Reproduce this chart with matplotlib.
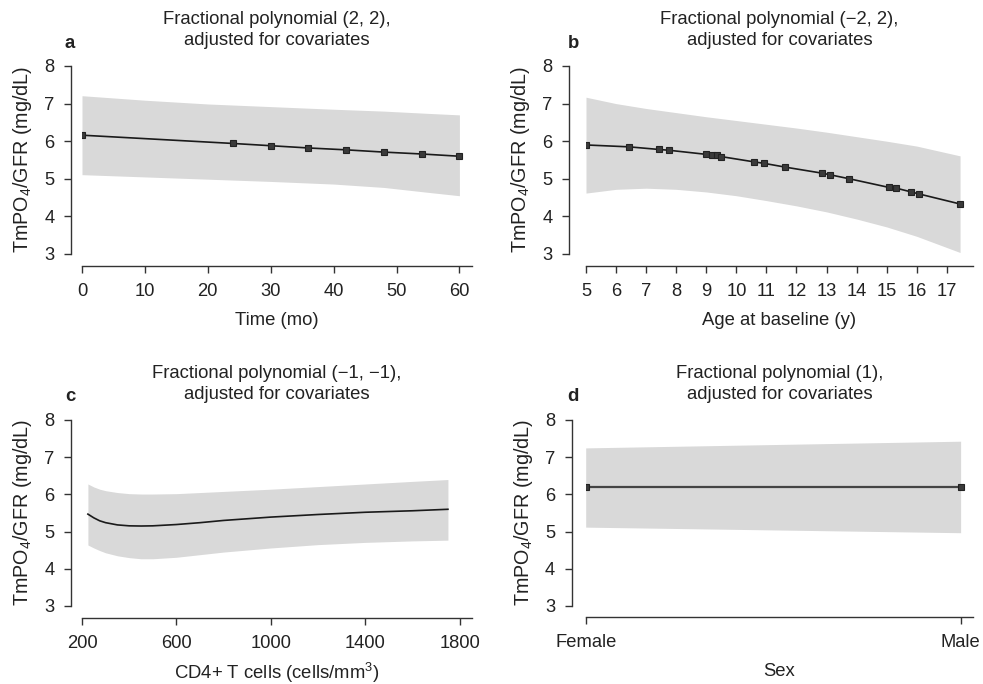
import matplotlib
matplotlib.use("Agg")
import matplotlib.pyplot as plt
import numpy as np

plt.rcParams['font.family'] = ['Liberation Sans', 'DejaVu Sans']
plt.rcParams['mathtext.fontset'] = 'custom'
plt.rcParams['mathtext.rm'] = 'Liberation Sans'
plt.rcParams['mathtext.it'] = 'Liberation Sans:italic'

# ---- Panel a: Time ----
time_x = [0, 24, 30, 36, 42, 48, 54, 60]
time_y = [6.16, 5.94, 5.88, 5.82, 5.77, 5.71, 5.66, 5.60]
time_band_x = [0, 10, 20, 30, 40, 48, 55, 60]
time_band_hi = [7.21, 7.09, 6.99, 6.92, 6.85, 6.80, 6.74, 6.70]
time_band_lo = [5.11, 5.05, 4.99, 4.93, 4.86, 4.77, 4.64, 4.55]

# ---- Panel b: Age at baseline ----
age_x = [5.0, 6.43, 7.43, 7.75, 9.0, 9.18, 9.34, 9.5, 10.59, 10.93, 11.63,
         12.85, 13.1, 13.76, 15.08, 15.32, 15.82, 16.06, 17.44]
age_y = [5.90, 5.85, 5.78, 5.76, 5.65, 5.63, 5.62, 5.59, 5.45, 5.41, 5.31,
         5.15, 5.11, 5.00, 4.77, 4.75, 4.65, 4.60, 4.33]
age_band_x = [5, 6, 7, 8, 9, 10, 11, 12, 13, 14, 15, 16, 17.44]
age_band_hi = [7.17, 7.00, 6.87, 6.76, 6.65, 6.55, 6.45, 6.35, 6.24, 6.12, 6.00, 5.87, 5.61]
age_band_lo = [4.62, 4.72, 4.75, 4.72, 4.65, 4.55, 4.42, 4.28, 4.12, 3.93, 3.72, 3.47, 3.04]

# ---- Panel c: CD4+ T cells ----
cd4_x = [225, 250, 275, 300, 350, 400, 450, 500, 600, 700, 800, 1000, 1200, 1400, 1600, 1750]
cd4_y = [5.47, 5.37, 5.29, 5.24, 5.18, 5.155, 5.15, 5.155, 5.19, 5.24, 5.30, 5.39, 5.46, 5.52, 5.56, 5.60]
cd4_hi = [6.28, 6.20, 6.14, 6.10, 6.05, 6.02, 6.01, 6.01, 6.02, 6.05, 6.08, 6.14, 6.21, 6.28, 6.35, 6.40]
cd4_lo = [4.64, 4.56, 4.49, 4.43, 4.35, 4.30, 4.27, 4.27, 4.31, 4.38, 4.45, 4.56, 4.65, 4.71, 4.75, 4.77]

# ---- Panel d: Sex ----
sex_labels = ['Female', 'Male']
sex_y = [6.21, 6.21]
sex_hi = [7.25, 7.43]
sex_lo = [5.12, 4.97]

W, H = 983, 684
fig = plt.figure(figsize=(W / 100, H / 100), dpi=100)

def make_ax(left, right, top, bottom):
    return fig.add_axes([left / W, 1 - bottom / H, (right - left) / W, (bottom - top) / H])

BAND = '#d9d9d9'
LINE = '#1a1a1a'
SPINE = '#333333'
TXT = '#222222'
FS_TICK = 13.2
FS_TITLE = 13.3
FS_XLAB = 13.3
FS_YLAB = 14.2

def style(ax, left_off, bottom_off):
    for s in ['top', 'right']:
        ax.spines[s].set_visible(False)
    ax.spines['left'].set_position(('outward', left_off * 0.72))
    ax.spines['bottom'].set_position(('outward', bottom_off * 0.72))
    for s in ['left', 'bottom']:
        ax.spines[s].set_color(SPINE)
        ax.spines[s].set_linewidth(1.0)
    ax.tick_params(direction='out', length=5, width=1.0, color=SPINE,
                   labelsize=FS_TICK, labelcolor=TXT)
    ax.tick_params(axis='x', pad=7.5)
    ax.tick_params(axis='y', pad=7)
    ax.set_ylim(3, 8)
    ax.set_yticks([3, 4, 5, 6, 7, 8])
    ax.set_ylabel('TmPO$_4$/GFR (mg/dL)', fontsize=FS_YLAB, color=TXT, labelpad=7)

def title(ax, txt, letter, xl, yl):
    ax.set_title(txt, fontsize=FS_TITLE, color=TXT, pad=15, linespacing=1.3)
    fig.text(xl / W, 1 - yl / H, letter, fontsize=FS_TITLE, fontweight='bold',
             ha='center', va='center', color=TXT)

mk = dict(marker='s', markersize=4, markerfacecolor='#3a3a3a', markeredgecolor='#222222',
          markeredgewidth=0.8)

# Panel a
ax = make_ax(82, 472, 66, 254)
ax.fill_between(time_band_x, time_band_lo, time_band_hi, color=BAND, lw=0)
ax.plot(time_x, time_y, color=LINE, lw=1.2, **mk)
ax.set_xlim(0, 62)
ax.set_xticks([0, 10, 20, 30, 40, 50, 60])
style(ax, 11, 12)
ax.set_xlabel('Time (mo)', fontsize=FS_XLAB, color=TXT, labelpad=8.5)
title(ax, 'Fractional polynomial (2, 2),\nadjusted for covariates', 'a', 70, 43)

# Panel b
ax = make_ax(586, 973, 66, 254)
ax.fill_between(age_band_x, age_band_lo, age_band_hi, color=BAND, lw=0)
ax.plot(age_x, age_y, color=LINE, lw=1.2, **mk)
ax.set_xlim(5, 17.87)
ax.set_xticks(list(range(5, 18)))
style(ax, 17, 12)
ax.set_xlabel('Age at baseline (y)', fontsize=FS_XLAB, color=TXT, labelpad=8.5)
title(ax, 'Fractional polynomial (\u22122, 2),\nadjusted for covariates', 'b', 573, 43)

# Panel c
ax = make_ax(82, 472, 420, 606)
ax.fill_between(cd4_x, cd4_lo, cd4_hi, color=BAND, lw=0)
ax.plot(cd4_x, cd4_y, color=LINE, lw=1.2)
ax.set_xlim(200, 1852)
ax.set_xticks([200, 600, 1000, 1400, 1800])
style(ax, 11, 12)
ax.set_xlabel('CD4+ T cells (cells/mm$^3$)', fontsize=FS_XLAB, color=TXT, labelpad=6.5)
title(ax, 'Fractional polynomial (\u22121, \u22121),\nadjusted for covariates', 'c', 70, 397)

# Panel d
ax = make_ax(585.7, 973, 420, 606)
sx = [0, 1]
ax.fill_between(sx, sex_lo, sex_hi, color=BAND, lw=0)
ax.plot(sx, sex_y, color='#444444', lw=1.6, **mk)
ax.set_xlim(0, 1.033)
ax.set_xticks(sx)
ax.set_xticklabels(sex_labels)
style(ax, 14, 11)
ax.set_xlabel('Sex', fontsize=FS_XLAB, color=TXT, labelpad=8.5)
title(ax, 'Fractional polynomial (1),\nadjusted for covariates', 'd', 573, 397)

fig.savefig('out.png', dpi=100)
